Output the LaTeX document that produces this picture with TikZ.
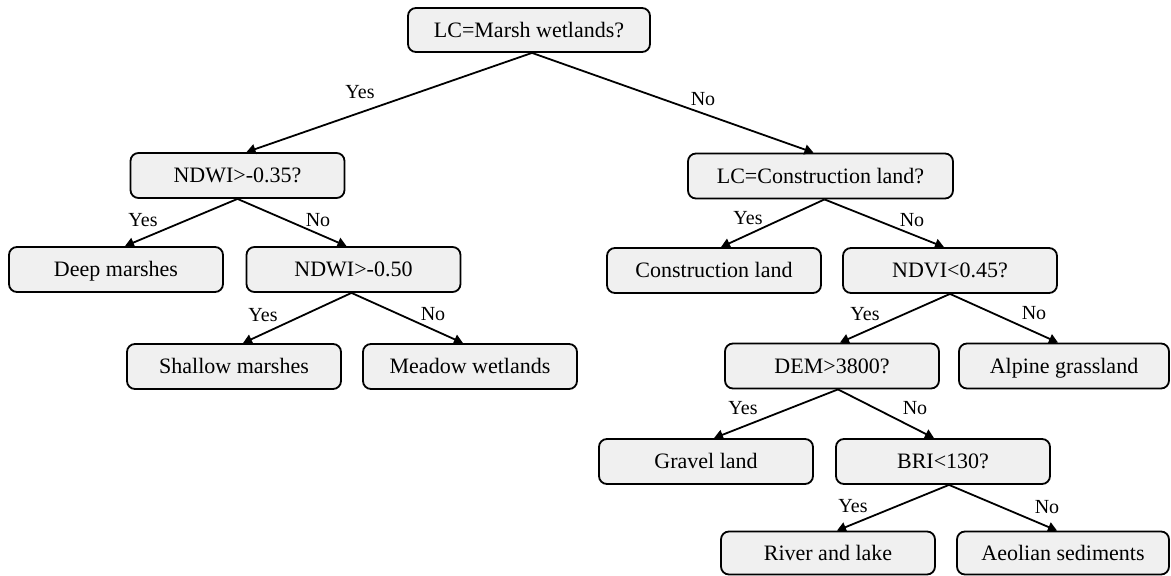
\documentclass[tikz,border=0pt]{standalone}
\usepackage{fontspec}
\setmainfont{Liberation Serif}
\usetikzlibrary{arrows.meta}
\definecolor{boxfill}{RGB}{240,240,240}
\tikzstyle{box} = [rectangle,draw,rounded corners=8pt,line width=1.8pt,fill=boxfill,minimum width=214pt,minimum height=45pt,inner sep=0pt,text height=14.5pt,text depth=0pt,font=\fontsize{22}{26}\selectfont]
\tikzstyle{branch} = [inner sep=0pt,text height=13.2pt,text depth=0pt,font=\fontsize{20}{24}\selectfont]
\tikzstyle{edge} = [line width=1.8pt,-{Triangle[width=10pt,length=9pt]}]

\begin{document}
\begin{tikzpicture}[x=1pt,y=-1pt]
	\useasboundingbox (0,0) rectangle (1171,576);
	\node[box,minimum width=242pt,minimum height=44pt] (root) at (529,30) {LC=Marsh wetlands?};
	\node[box] (ndwiA) at (237.5,175.5) {NDWI>-0.35?};
	\node[box] (deep) at (116,269.5) {Deep marshes};
	\node[box] (ndwiB) at (353.5,269.5) {NDWI>-0.50};
	\node[box] (shallow) at (234,366.5) {Shallow marshes};
	\node[box] (meadow) at (470,366.5) {Meadow wetlands};
	\node[box,minimum width=265pt] (lcc) at (820.5,176) {LC=Construction land?};
	\node[box] (cons) at (714,270.5) {Construction land};
	\node[box] (ndvi) at (950,270.5) {NDVI<0.45?};
	\node[box] (dem) at (832,366) {DEM>3800?};
	\node[box,minimum width=210pt] (alpine) at (1064,366) {Alpine grassland};
	\node[box] (gravel) at (706,461.5) {Gravel land};
	\node[box] (bri) at (943,461.5) {BRI<130?};
	\node[box,minimum height=43pt] (river) at (828,553) {River and lake};
	\node[box,minimum width=212pt,minimum height=43pt] (aeolian) at (1063,553) {Aeolian sediments};
	\node[branch] (y1) at (360,92) {Yes};
	\node[branch] (n1) at (703,99) {No};
	\node[branch] (y2) at (143,220) {Yes};
	\node[branch] (n2) at (318,220) {No};
	\node[branch] (y3) at (263,315) {Yes};
	\node[branch] (n3) at (433,314) {No};
	\node[branch] (y4) at (748,218) {Yes};
	\node[branch] (n4) at (912,220) {No};
	\node[branch] (y5) at (865,314) {Yes};
	\node[branch] (n5) at (1034,313) {No};
	\node[branch] (y6) at (743,408) {Yes};
	\node[branch] (n6) at (915,408) {No};
	\node[branch] (y7) at (853,506) {Yes};
	\node[branch] (n7) at (1047,507) {No};
	\draw[edge] ([xshift=3pt]root.south) -- ([xshift=9pt]ndwiA.north);
	\draw[edge] ([xshift=3pt]root.south) -- ([xshift=-7pt]lcc.north);
	\draw[edge] (ndwiA.south) -- ([xshift=9pt]deep.north);
	\draw[edge] (ndwiA.south) -- ([xshift=-7pt]ndwiB.north);
	\draw[edge] ([xshift=-2pt]ndwiB.south) -- ([xshift=9pt]shallow.north);
	\draw[edge] ([xshift=-2pt]ndwiB.south) -- ([xshift=-7pt]meadow.north);
	\draw[edge] ([xshift=4pt]lcc.south) -- ([xshift=7pt]cons.north);
	\draw[edge] ([xshift=4pt]lcc.south) -- ([xshift=-6pt]ndvi.north);
	\draw[edge] (ndvi.south) -- ([xshift=8pt]dem.north);
	\draw[edge] (ndvi.south) -- ([xshift=-6pt]alpine.north);
	\draw[edge] ([xshift=6pt]dem.south) -- ([xshift=8pt]gravel.north);
	\draw[edge] ([xshift=6pt]dem.south) -- ([xshift=-9pt]bri.north);
	\draw[edge] ([xshift=6pt]bri.south) -- ([xshift=9pt]river.north);
	\draw[edge] ([xshift=6pt]bri.south) -- ([xshift=-6pt]aeolian.north);
\end{tikzpicture}
\end{document}
